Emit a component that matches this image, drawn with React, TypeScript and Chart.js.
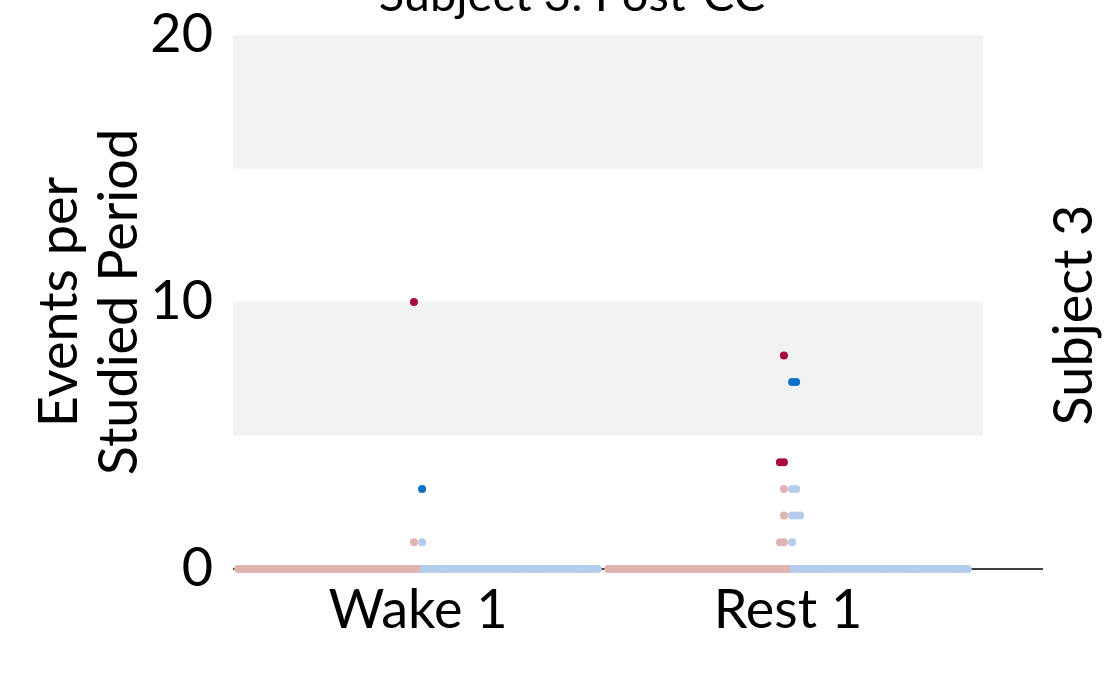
import React, { useEffect, useRef } from "react";
import { Chart, registerables } from "chart.js";

Chart.register(...registerables);

// ---- Data ----
const categories = ["Wake 1", "Rest 1"];
const chartTitle = "Subject 3: Post-CC";
const rightLabel = "Subject 3";
const yTitle = ["Events per", "Studied Period"];
const yTicks = [0, 10, 20];
const shadedBands: [number, number][] = [[5, 10], [15, 20]];

// [value, count] rows per category (index matches categories)
const lightRedRows: [number, number][][] = [
  [[0, 60], [1, 1]],
  [[0, 60], [1, 2], [2, 1], [3, 1]],
];
const darkRedRows: [number, number][][] = [
  [[10, 1]],
  [[4, 2], [8, 1]],
];
const lightBlueRows: [number, number][][] = [
  [[0, 60], [1, 1]],
  [[0, 60], [1, 1], [2, 3], [3, 2]],
];
const darkBlueRows: [number, number][][] = [
  [[3, 1]],
  [[7, 2]],
];

const COLORS = {
  lightRed: "#e0b4b2",
  darkRed: "#a80a3c",
  lightBlue: "#b6ccec",
  darkBlue: "#0a70c6",
};

const FONT = "Lato";

// swarm-like placement: left side for red series, right side for blue series
const FIRST = 0.011;
const STEP = 0.011;
const SPAN = 0.49;

function placeSide(
  cat: number,
  side: number,
  seriesRows: [number, number][][]
): { x: number; y: number }[][] {
  const totals: Record<number, number> = {};
  seriesRows.forEach((rows) =>
    rows.forEach(([v, c]) => {
      totals[v] = (totals[v] || 0) + c;
    })
  );
  const counters: Record<number, number> = {};
  return seriesRows.map((rows) => {
    const pts: { x: number; y: number }[] = [];
    rows.forEach(([v, c]) => {
      for (let k = 0; k < c; k++) {
        const idx = counters[v] || 0;
        counters[v] = idx + 1;
        const total = totals[v];
        const dense = total > 10;
        const step = dense ? SPAN / total : STEP;
        const first = dense ? step / 2 : FIRST;
        pts.push({ x: cat + side * (first + idx * step), y: v });
      }
    });
    return pts;
  });
}

function buildPoints() {
  const lr: { x: number; y: number }[] = [];
  const dr: { x: number; y: number }[] = [];
  const lb: { x: number; y: number }[] = [];
  const db: { x: number; y: number }[] = [];
  categories.forEach((_, i) => {
    const [a, b] = placeSide(i, -1, [lightRedRows[i], darkRedRows[i]]);
    lr.push(...a);
    dr.push(...b);
    const [c, d] = placeSide(i, 1, [lightBlueRows[i], darkBlueRows[i]]);
    lb.push(...c);
    db.push(...d);
  });
  return { lr, dr, lb, db };
}

const decorPlugin = {
  id: "decor",
  beforeDatasetsDraw(chart: any) {
    const { ctx, chartArea, scales } = chart;
    const y = scales.y;
    ctx.save();
    ctx.fillStyle = "#f2f2f2";
    shadedBands.forEach(([lo, hi]) => {
      const y1 = y.getPixelForValue(hi);
      const y2 = y.getPixelForValue(lo);
      ctx.fillRect(chartArea.left, y1, chartArea.right - chartArea.left, y2 - y1);
    });
    const y0 = y.getPixelForValue(0);
    ctx.strokeStyle = "#404040";
    ctx.lineWidth = 2;
    ctx.beginPath();
    ctx.moveTo(chartArea.left, y0);
    ctx.lineTo(chartArea.right + 60, y0);
    ctx.stroke();
    ctx.restore();
  },
  afterDraw(chart: any) {
    const { ctx } = chart;
    ctx.save();
    ctx.fillStyle = "#000";
    ctx.font = `47px ${FONT}`;
    ctx.textAlign = "center";
    ctx.textBaseline = "alphabetic";
    ctx.fillText(chartTitle, 572, 11);
    ctx.font = `54px ${FONT}`;
    ctx.translate(1075, 315);
    ctx.rotate(-Math.PI / 2);
    ctx.textBaseline = "middle";
    ctx.fillText(rightLabel, 0, 0);
    ctx.restore();
  },
};

export default function App() {
  const ref = useRef<HTMLCanvasElement | null>(null);
  useEffect(() => {
    if (!ref.current) return;
    const { lr, dr, lb, db } = buildPoints();
    const mk = (data: any[], color: string) => ({
      type: "scatter" as const,
      data,
      backgroundColor: color,
      borderWidth: 0,
      pointRadius: 4,
      pointHoverRadius: 4,
      clip: false as any,
    });
    const chart = new Chart(ref.current, {
      type: "scatter",
      data: {
        datasets: [
          mk(lr, COLORS.lightRed),
          mk(lb, COLORS.lightBlue),
          mk(dr, COLORS.darkRed),
          mk(db, COLORS.darkBlue),
        ],
      },
      options: {
        animation: false,
        responsive: true,
        maintainAspectRatio: false,
        layout: { padding: { top: 35, right: 137, bottom: 0, left: 0 } },
        plugins: { legend: { display: false }, tooltip: { enabled: false }, title: { display: false } },
        scales: {
          x: {
            type: "linear",
            min: -0.5,
            max: 1.527,
            grid: { display: false, drawTicks: false },
            border: { display: false },
            afterBuildTicks: (s: any) => {
              s.ticks = categories.map((_, i) => ({ value: i }));
            },
            afterFit: (s: any) => {
              s.height = 109;
              s.paddingLeft = 0;
              s.paddingRight = 0;
            },
            ticks: {
              autoSkip: false,
              maxRotation: 0,
              padding: 9,
              color: "#000",
              font: { family: FONT, size: 54 },
              callback: (v: any) => categories[v as number] ?? "",
            },
          },
          y: {
            type: "linear",
            min: 0,
            max: 20,
            grid: { display: false, drawTicks: false },
            border: { display: false },
            afterBuildTicks: (s: any) => {
              s.ticks = yTicks.map((v) => ({ value: v }));
            },
            afterFit: (s: any) => {
              s.width = 233;
              s.paddingTop = 0;
              s.paddingBottom = 0;
            },
            ticks: {
              padding: 20,
              color: "#000",
              font: { family: FONT, size: 54 },
            },
            title: {
              display: true,
              text: yTitle,
              color: "#000",
              font: { family: FONT, size: 54, lineHeight: 60 / 54 },
              padding: { top: 30, bottom: 0 },
            },
          },
        },
      },
      plugins: [decorPlugin],
    });
    return () => chart.destroy();
  }, []);
  return (
    <div style={{ position: "fixed", left: 0, top: 0, width: 1120, height: 678, background: "#fff" }}>
      <canvas ref={ref} />
    </div>
  );
}
